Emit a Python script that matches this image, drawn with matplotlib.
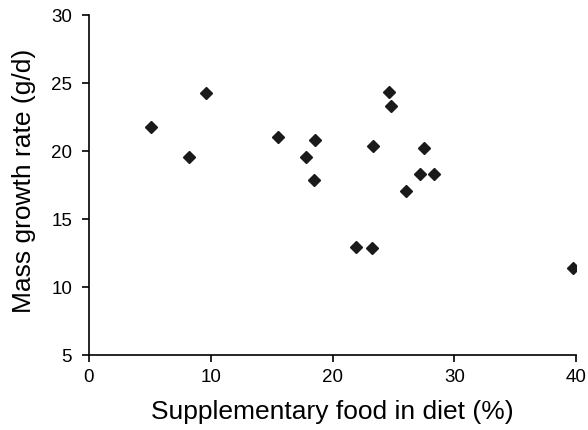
import matplotlib
matplotlib.use("Agg")
import matplotlib.pyplot as plt

# values
food_pct = [5.1, 8.2, 9.6, 15.5, 17.8, 18.6, 18.5, 24.6, 24.8, 23.3,
            27.5, 27.2, 28.3, 26.0, 21.9, 23.2, 39.7]
growth = [21.7, 19.55, 24.25, 21.0, 19.5, 20.8, 17.8, 24.3, 23.25, 20.3,
          20.2, 18.25, 18.25, 17.0, 12.9, 12.8, 11.35]

x_ticks = [0, 10, 20, 30, 40]
y_ticks = [5, 10, 15, 20, 25, 30]

plt.rcParams['font.family'] = ['Liberation Sans', 'DejaVu Sans']

fig = plt.figure(figsize=(5.88, 4.31), dpi=100)
ax = fig.add_axes([0.151, 0.175, 0.829, 0.789])

ax.plot(food_pct, growth, linestyle='none', marker='D', markersize=6.0,
        color='#1a1a1a')

ax.set_xlim(0, 40)
ax.set_ylim(5, 30)
ax.set_xticks(x_ticks)
ax.set_yticks(y_ticks)

for side in ['top', 'right']:
    ax.spines[side].set_visible(False)
for side in ['left', 'bottom']:
    ax.spines[side].set_linewidth(1.2)

ax.tick_params(direction='out', length=5, width=1.2, labelsize=13.5)
ax.tick_params(axis='y', pad=7)
ax.tick_params(axis='x', pad=5)

# label positions (centre of each text)
ax.set_xlabel("Supplementary food in diet (%)", fontsize=19, va='center')
ax.set_ylabel("Mass growth rate (g/d)", fontsize=19, va='center')
ax.xaxis.set_label_coords(0.5, -0.166)
ax.yaxis.set_label_coords(-0.133, 0.515)

fig.savefig("out.png", dpi=100)
